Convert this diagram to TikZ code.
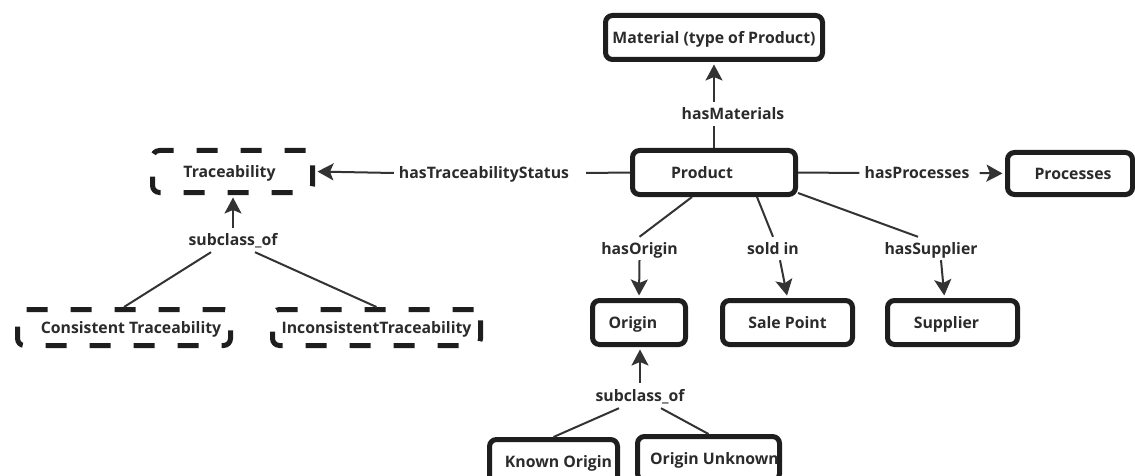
\documentclass[tikz,border=0pt]{standalone}
\usepackage{fontspec}
\setmainfont{Open Sans}
\usetikzlibrary{arrows.meta}
\definecolor{ink}{HTML}{1E1E1E}
\definecolor{txt}{HTML}{2B2B2B}
\definecolor{wirecol}{HTML}{333333}
\begin{document}
\begin{tikzpicture}[x=1pt,y=-1pt,
  every node/.style={font=\fontsize{15.8}{18}\selectfont\bfseries, text=txt},
  cls/.style={draw=ink, line width=5pt, rounded corners=7pt, inner sep=0pt,
    text height=11.6pt, text depth=0pt, fill=white},
  abstractcls/.style={cls, dash pattern=on 21pt off 23pt},
  rel/.style={inner sep=0pt, inner xsep=5pt, text height=11.6pt, text depth=0pt,
    minimum height=24pt},
  wire/.style={draw=wirecol, line width=2pt},
  arr/.style={wire, shorten >=2.5pt, -{Stealth[length=16pt,width=17pt,inset=3.5pt]}},
  % moves the text inside a box sideways by half the given amount
  tshift/.style={execute at begin node={\hspace*{#1}}}
]
\useasboundingbox (0,0) rectangle (1135,476);
\clip (0,0) rectangle (1135,476);

% classes
\node[cls, minimum width=217pt, minimum height=44pt] (material) at (714,37.5) {Material (type of Product)};
\node[cls, minimum width=163pt, minimum height=44pt, tshift=-24pt] (product) at (714,172.5) {Product};
\node[cls, minimum width=125pt, minimum height=42pt, tshift=6pt] (processes) at (1070,173.5) {Processes};
\node[cls, minimum width=93pt, minimum height=44pt, tshift=-12pt] (origin) at (639,322.5) {Origin};
\node[cls, minimum width=130pt, minimum height=44pt] (salepoint) at (787.5,322.5) {Sale Point};
\node[cls, minimum width=130pt, minimum height=44pt, tshift=-12pt] (supplier) at (952.5,322.5) {Supplier};
\node[cls, minimum width=128pt, minimum height=44pt, tshift=10pt] (knownorigin) at (553.5,461.5) {Known Origin};
\node[cls, minimum width=142pt, minimum height=44pt, tshift=12pt] (originunknown) at (708.5,458.5) {Origin Unknown};

% abstract classes
\node[abstractcls, minimum width=160pt, minimum height=42pt, tshift=-6pt] (trace) at (232.5,171.5) {Traceability};
\node[abstractcls, minimum width=213pt, minimum height=36pt, tshift=14pt] (consistent) at (124,327.5) {Consistent Traceability};
\node[abstractcls, minimum width=208pt, minimum height=36pt] (inconsistent) at (376.5,327.5) {InconsistentTraceability};

% relation labels
\node[rel] (lblMat) at (733,114) {hasMaterials};
\node[rel] (lblTS) at (484,173) {hasTraceabilityStatus};
\node[rel] (lblProc) at (917,173) {hasProcesses};
\node[rel, minimum height=23pt] (lblOrig) at (639.5,248.5) {hasOrigin};
\node[rel, minimum height=23pt] (lblSold) at (773,248.5) {sold in};
\node[rel, minimum height=23pt] (lblSup) at (931,248.5) {hasSupplier};
\node[rel] (lblSubA) at (233,240) {subclass\_of};
\node[rel, minimum height=25pt] (lblSubB) at (640,395.5) {subclass\_of};

% relations of Product
\draw[wire] (product.north) -- (product.north |- lblMat.south);
\draw[arr] (product.north |- lblMat.north) -- (material.south);
\draw[wire] (product.west) -- ([xshift=12pt]lblTS.east);
\draw[arr] (lblTS.west) -- (trace.east);
\draw[wire] (product.east) -- (lblProc.west);
\draw[arr] ([xshift=5pt]lblProc.east) -- (processes.west);
\draw[wire] ([xshift=-22pt]product.south) -- (lblOrig.north);
\draw[arr] (lblOrig.south) -- (origin.north);
\draw[wire] ([xshift=43pt]product.south) -- (lblSold.north);
\draw[arr] ([xshift=7pt]lblSold.south) -- (salepoint.north);
\draw[wire] ([yshift=4pt]product.south east) -- ([xshift=-13pt]lblSup.north);
\draw[arr] ([xshift=10pt]lblSup.south) -- ([xshift=-8pt]supplier.north);

% subclass hierarchy of Traceability
\draw[arr] (lblSubA.north) -- (lblSubA.north |- trace.south);
\draw[wire] ([xshift=-22pt]lblSubA.south) -- (consistent.north);
\draw[wire] ([xshift=22pt]lblSubA.south) -- (inconsistent.north);

% subclass hierarchy of Origin
\draw[arr] (lblSubB.north) -- (lblSubB.north |- origin.south);
\draw[wire] ([xshift=-21pt]lblSubB.south) -- (knownorigin.north);
\draw[wire] ([xshift=21pt]lblSubB.south) -- (originunknown.north);
\end{tikzpicture}
\end{document}
